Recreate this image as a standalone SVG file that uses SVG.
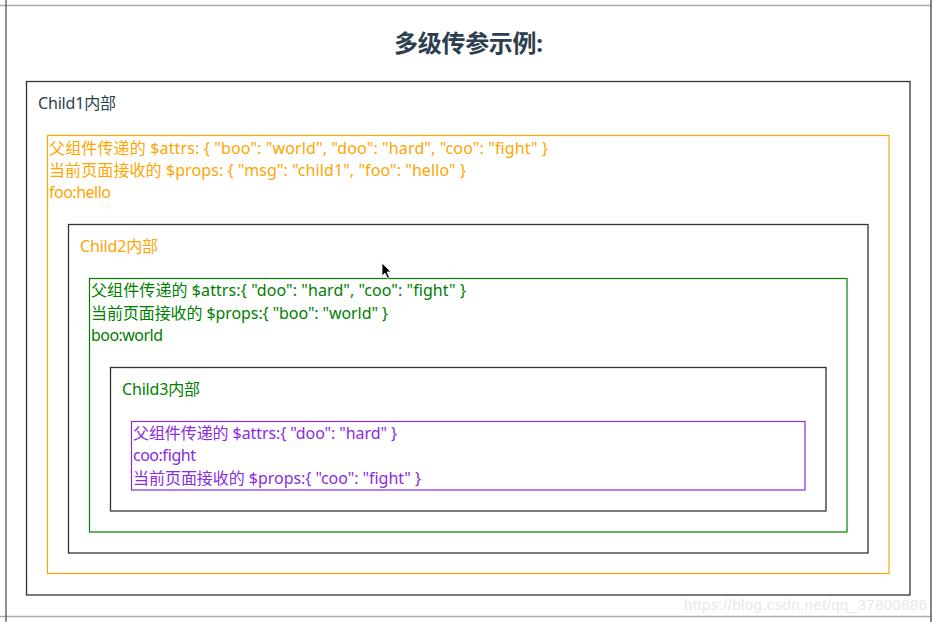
<svg xmlns="http://www.w3.org/2000/svg" width="937" height="622" viewBox="0 0 937 622">
<style>
text{font-family:"Noto Sans","Noto Sans CJK SC",sans-serif;font-size:16px}
.title{font-size:24px;font-weight:bold;fill:#2c3e50}
.dark{fill:#2c3e50}
.or{fill:#ffa500}
.gr{fill:#008000}
.pu{fill:#8a2be2}
.bx{fill:none;stroke:#333;stroke-width:1.3}
.bor{fill:none;stroke:#ffa500;stroke-width:1.2}
.bgr{fill:none;stroke:#008000;stroke-width:1.2}
.bpu{fill:none;stroke:#8a2be2;stroke-width:1.2}
.wm{font-family:"Liberation Sans",Arial,sans-serif;font-size:15px;fill:#e8e8e8}
</style>
<rect width="937" height="622" fill="#fff"/>
<g id="frame">
<line x1="0" y1="5.5" x2="931" y2="5.5" stroke="#aaa" stroke-width="1.5"/>
<line x1="0" y1="616.5" x2="931" y2="616.5" stroke="#aaa" stroke-width="1.5"/>
<line x1="6" y1="0" x2="6" y2="622" stroke="#555" stroke-width="1.3"/>
<line x1="931" y1="0" x2="931" y2="622" stroke="#444" stroke-width="1.3"/>
</g>
<text class="title" x="468.5" y="52" text-anchor="middle" textLength="149">多级传参示例:</text>
<g id="child1">
<rect class="bx" x="26.5" y="81.5" width="883.5" height="513.5"/>
<text class="dark" x="38" y="109" textLength="78">Child1内部</text>
</g>
<g id="child1-info">
<rect class="bor" x="47.5" y="135.5" width="841.5" height="438"/>
<text class="or" x="49" y="154" textLength="499">父组件传递的 $attrs: { "boo": "world", "doo": "hard", "coo": "fight" }</text>
<text class="or" x="49" y="176" textLength="417">当前页面接收的 $props: { "msg": "child1", "foo": "hello" }</text>
<text class="or" x="49" y="198" textLength="62">foo:hello</text>
</g>
<g id="child2">
<rect class="bx" x="68.5" y="224.5" width="799.5" height="328.5"/>
<text class="or" x="80" y="252" textLength="78">Child2内部</text>
</g>
<g id="child2-info">
<rect class="bgr" x="89.5" y="278.5" width="757.5" height="253.5"/>
<text class="gr" x="91" y="296" textLength="375">父组件传递的 $attrs:{ "doo": "hard", "coo": "fight" }</text>
<text class="gr" x="91" y="319" textLength="297">当前页面接收的 $props:{ "boo": "world" }</text>
<text class="gr" x="91" y="341" textLength="72">boo:world</text>
</g>
<g id="child3">
<rect class="bx" x="110.5" y="367.5" width="715.5" height="143.5"/>
<text class="gr" x="122" y="395" textLength="78">Child3内部</text>
</g>
<g id="child3-info">
<rect class="bpu" x="131.5" y="421.5" width="673.5" height="68.5"/>
<text class="pu" x="133" y="439" textLength="264">父组件传递的 $attrs:{ "doo": "hard" }</text>
<text class="pu" x="133" y="461" textLength="63">coo:fight</text>
<text class="pu" x="133" y="484" textLength="288">当前页面接收的 $props:{ "coo": "fight" }</text>
</g>
<g id="connectors"></g>
<path d="M382 263 L382 276 L385 273 L387.5 278.5 L389.5 277.5 L387 272 L391 272 Z" fill="#000" stroke="#fff" stroke-width="0.8"/>
<text class="wm" x="684" y="610" textLength="243">https://blog.csdn.net/qq_37800886</text>
</svg>
